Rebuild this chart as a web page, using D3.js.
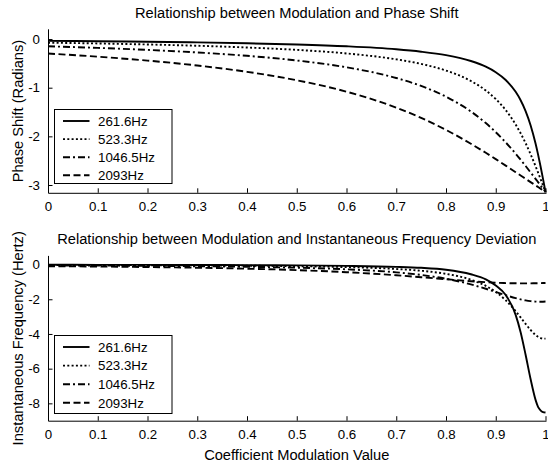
<!DOCTYPE html>
<html><head><meta charset="utf-8">
<script src="https://cdn.jsdelivr.net/npm/d3@7"></script>
<style>
html,body{margin:0;padding:0;background:#fff;}
text{font-family:"Liberation Sans",Arial,Helvetica,sans-serif;fill:#000;}
</style></head>
<body><svg id="c" width="548" height="464"></svg>
<script>
// ---- data ----
const modulation = [0,0.1,0.2,0.3,0.4,0.5,0.6,0.7,0.75,0.8,0.85,0.88,0.9,0.92,0.94,0.95,0.96,0.97,0.98,0.985,0.99,0.995,1];
const seriesNames = ["261.6Hz","523.3Hz","1046.5Hz","2093Hz"];
const phase261 = [-0.037,-0.046,-0.056,-0.069,-0.087,-0.112,-0.149,-0.210,-0.260,-0.332,-0.452,-0.568,-0.681,-0.841,-1.085,-1.257,-1.480,-1.771,-2.148,-2.371,-2.615,-2.874,-3.142];
const phase523 = [-0.075,-0.091,-0.112,-0.138,-0.174,-0.223,-0.296,-0.417,-0.511,-0.648,-0.862,-1.058,-1.233,-1.460,-1.757,-1.937,-2.140,-2.366,-2.613,-2.742,-2.874,-3.007,-3.142];
const phase1046 = [-0.149,-0.182,-0.223,-0.276,-0.345,-0.441,-0.581,-0.801,-0.964,-1.184,-1.489,-1.727,-1.914,-2.124,-2.356,-2.480,-2.609,-2.740,-2.874,-2.940,-3.009,-3.075,-3.142];
const phase2093 = [-0.298,-0.363,-0.443,-0.544,-0.674,-0.847,-1.082,-1.410,-1.621,-1.868,-2.152,-2.338,-2.468,-2.601,-2.736,-2.804,-2.872,-2.940,-3.007,-3.041,-3.075,-3.108,-3.142];
const freq261 = [-0.012,-0.015,-0.019,-0.024,-0.033,-0.047,-0.074,-0.130,-0.187,-0.300,-0.560,-0.850,-1.200,-1.750,-2.900,-3.900,-5.200,-6.600,-7.800,-8.200,-8.400,-8.500,-8.530];
const freq523 = [-0.024,-0.029,-0.037,-0.048,-0.065,-0.094,-0.145,-0.253,-0.356,-0.534,-0.871,-1.229,-1.581,-2.060,-2.688,-3.048,-3.420,-3.770,-4.057,-4.162,-4.234,-4.270,-4.268];
const freq1046 = [-0.047,-0.058,-0.073,-0.095,-0.128,-0.181,-0.273,-0.448,-0.598,-0.819,-1.143,-1.394,-1.578,-1.763,-1.933,-2.005,-2.065,-2.109,-2.135,-2.141,-2.143,-2.139,-2.131];
const freq2093 = [-0.094,-0.114,-0.142,-0.181,-0.237,-0.318,-0.439,-0.616,-0.727,-0.845,-0.959,-1.016,-1.046,-1.067,-1.080,-1.083,-1.083,-1.081,-1.076,-1.073,-1.069,-1.065,-1.059];
const xTicks = [0,0.1,0.2,0.3,0.4,0.5,0.6,0.7,0.8,0.9,1];
const phaseTicks = [0,-1,-2,-3];
const freqTicks = [0,-2,-4,-6,-8];

const dashes = [null, "2,2.3", "7,3,2,3", "7,3.5"];
const FS = 13.3;   // tick & legend font
const LFS = 14.67; // title & label font
const X0 = 48, X1 = 545.5;
const svg = d3.select("#c");

function panel(cfg){
  const x = d3.scaleLinear().domain([0,1]).range([X0,X1]);
  const y = d3.scaleLinear().domain(cfg.ydomain).range(cfg.yrange);
  const g = svg.append("g");
  g.append("text").attr("x",(X0+X1)/2).attr("y",cfg.titleY).attr("text-anchor","middle")
    .style("font-size",LFS+"px").text(cfg.title);
  g.append("text").attr("transform",`translate(22.7,${(cfg.yrange[0]+cfg.yrange[1])/2}) rotate(-90)`)
    .attr("text-anchor","middle").style("font-size",LFS+"px").text(cfg.ylabel);
  const line = d3.line().x((d,i)=>x(modulation[i])).y(d=>y(d)).curve(d3.curveMonotoneX);
  cfg.series.forEach((s,k)=>{
    g.append("path").attr("d",line(s)).attr("fill","none").attr("stroke","#000")
      .attr("stroke-width",1.9).attr("stroke-dasharray",dashes[k]);
  });
  const xa = d3.axisBottom(x).tickValues(xTicks).tickSize(-4.5).tickPadding(9).tickFormat(d3.format("~g"));
  const gx = g.append("g").attr("transform",`translate(0,${cfg.yrange[0]})`).call(xa);
  const ya = d3.axisLeft(y).tickValues(cfg.yticks).tickSize(-4.5).tickPadding(8).tickFormat(d=>String(d).replace("−","-"));
  const gy = g.append("g").attr("transform",`translate(${X0},0)`).call(ya);
  [gx,gy].forEach(a=>{
    a.selectAll("path.domain").attr("stroke","#000").attr("stroke-width",1);
    a.selectAll(".tick line").attr("stroke","#000").attr("stroke-width",1);
    a.selectAll(".tick text").style("font-size",FS+"px").style("font-family",'"Liberation Sans",Arial,sans-serif').attr("fill","#000");
  });
  gx.select("path.domain").attr("d",`M${X0+0.5},0.5H${X1+1}`);
  gy.select("path.domain").attr("d",`M0.5,${cfg.yrange[1]}V${cfg.yrange[0]+0.5}`);
  const lg = g.append("g");
  lg.append("rect").attr("x",54.5).attr("y",cfg.legTop+0.5).attr("width",117.5).attr("height",cfg.legH)
    .attr("fill","#fff").attr("stroke","#000").attr("stroke-width",1);
  seriesNames.forEach((n,k)=>{
    const cy = cfg.legTop + 12 + k*cfg.legStep;
    lg.append("line").attr("x1",63).attr("x2",89.5).attr("y1",cy).attr("y2",cy)
      .attr("stroke","#000").attr("stroke-width",1.9).attr("stroke-dasharray",dashes[k]);
    lg.append("text").attr("x",98).attr("y",cy+4.7).style("font-size",FS+"px").text(n);
  });
}

panel({title:"Relationship between Modulation and Phase Shift", titleY:17.5,
  ylabel:"Phase Shift (Radians)", ydomain:[-3.16,0.2], yrange:[192.8,29.3],
  yticks:phaseTicks, series:[phase261,phase523,phase1046,phase2093],
  legTop:109, legH:74, legStep:18.1});
panel({title:"Relationship between Modulation and Instantaneous Frequency Deviation", titleY:244,
  ylabel:"Instantaneous Frequency (Hertz)", ydomain:[-9,0.5], yrange:[420.7,255.9],
  yticks:freqTicks, series:[freq261,freq523,freq1046,freq2093],
  legTop:335, legH:78, legStep:18.6});
svg.append("text").attr("x",(X0+X1)/2).attr("y",459.5).attr("text-anchor","middle")
  .style("font-size",LFS+"px").text("Coefficient Modulation Value");
</script></body></html>
